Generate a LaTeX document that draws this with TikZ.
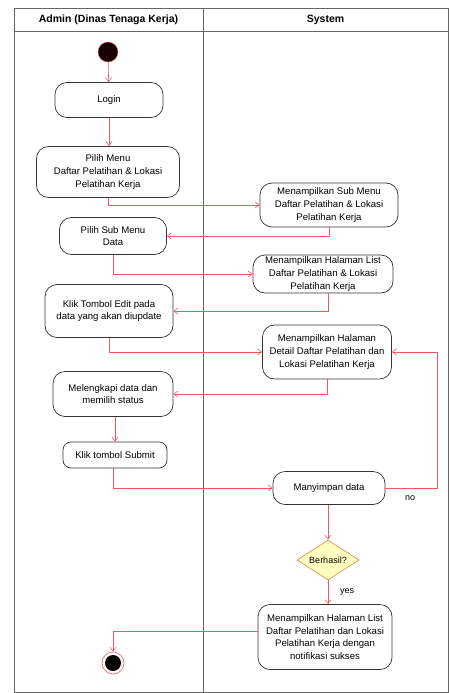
\documentclass[tikz,border=0pt]{standalone}
\usepackage{fontspec}
\setmainfont{Liberation Sans}
\usetikzlibrary{arrows.meta,shapes.geometric}
\definecolor{lred}{RGB}{232,90,100}
\definecolor{dfill}{RGB}{255,255,192}
\definecolor{dline}{RGB}{214,140,60}
\tikzset{
  act/.style={draw=black!80, line width=0.7pt, rounded corners=12pt, align=center, font=\fontsize{9.6}{12.6}\selectfont, inner sep=1pt},
  flow/.style={draw=lred, line width=0.6pt, -{Straight Barb[length=4pt,width=6pt]}},
  lbl/.style={font=\fontsize{9}{10}\selectfont},
}
\begin{document}
\begin{tikzpicture}[x=1pt,y=-1pt]
\useasboundingbox (0,0) rectangle (449,693);
% swimlanes
\draw[black!60, line width=0.8pt] (14,8) rectangle (448,692);
\draw[black!60, line width=0.8pt] (14,31) -- (448,31);
\draw[black!60, line width=0.8pt] (203,8) -- (203,692);
\node[font=\bfseries\fontsize{10.5}{12}\selectfont] (h1) at (108.5,20) {Admin (Dinas Tenaga Kerja)};
\node[font=\bfseries\fontsize{10.5}{12}\selectfont] (h2) at (325.5,20) {System};
% nodes
\node[circle, fill=black!90!red, draw=lred, line width=0.4pt, minimum size=20pt, inner sep=0pt] (start) at (108,52) {};
\node[act, minimum width=108pt, minimum height=35pt] (login) at (109,100) {Login};
\node[act, minimum width=143pt, minimum height=51pt] (menu) at (108,172) {Pilih Menu\\Daftar Pelatihan \& Lokasi\\Pelatihan Kerja};
\node[act, minimum width=138pt, minimum height=44pt] (sub) at (329,205) {Menampilkan Sub Menu\\Daftar Pelatihan \& Lokasi\\Pelatihan Kerja};
\node[act, minimum width=107pt, minimum height=37pt] (psub) at (113,236) {Pilih Sub Menu\\Data};
\node[act, minimum width=140pt, minimum height=38pt] (list) at (323,274) {Menampilkan Halaman List\\Daftar Pelatihan \& Lokasi\\Pelatihan Kerja};
\node[act, minimum width=128pt, minimum height=53pt] (edit) at (109,311) {Klik Tombol Edit pada\\data yang akan diupdate};
\node[act, minimum width=129pt, minimum height=54pt] (detail) at (327,352) {Menampilkan Halaman\\Detail Daftar Pelatihan dan\\Lokasi Pelatihan Kerja};
\node[act, minimum width=120pt, minimum height=45pt] (leng) at (113,394) {Melengkapi data dan\\memilih status};
\node[act, rounded corners=8pt, minimum width=104pt, minimum height=26pt] (submit) at (115,455) {Klik tombol Submit};
\node[act, minimum width=112pt, minimum height=33pt] (simpan) at (329,488) {Manyimpan data};
\node[diamond, draw=dline, fill=dfill, line width=0.6pt, minimum width=62pt, minimum height=40pt, inner sep=0pt, aspect=1.55, font=\fontsize{9}{10}\selectfont] (dec) at (328,560) {Berhasil?};
\node[act, minimum width=134pt, minimum height=65pt] (notif) at (325,637) {Menampilkan Halaman List\\Daftar Pelatihan dan Lokasi\\Pelatihan Kerja dengan\\notifikasi sukses};
\node[circle, draw=lred, line width=0.6pt, minimum size=22pt, inner sep=0pt] (end) at (113,663) {};
\fill[black] (end.center) circle (8pt);
% connectors
\draw[flow] (start) -- (login);
\draw[flow] (login) -- (login |- menu.north);
\draw[flow] (menu.south) |- (sub.west);
\draw[flow] (sub.south) |- (psub.east);
\draw[flow] (psub.south) |- (list.west);
\draw[flow] (list.south -| 328,0) |- (edit.east);
\draw[flow] (edit.south) |- (detail.west);
\draw[flow] (detail.south) |- (leng.east);
\draw[flow] (leng.south -| submit) -- (submit.north);
\draw[flow] (submit.south -| 113,0) |- (simpan.west);
\coordinate (nr) at (437,488);
\draw[flow] (simpan.east) -- (nr) |- (detail.east);
\node[lbl] (no) at (410,498) {no};
\draw[flow] (simpan.south -| dec) -- (dec.north);
\draw[flow] (dec.south) -- (dec.south |- notif.north);
\node[lbl] (yes) at (347,592) {yes};
\draw[flow] (notif.west |- 0,631) -| (end.north);
\end{tikzpicture}
\end{document}
